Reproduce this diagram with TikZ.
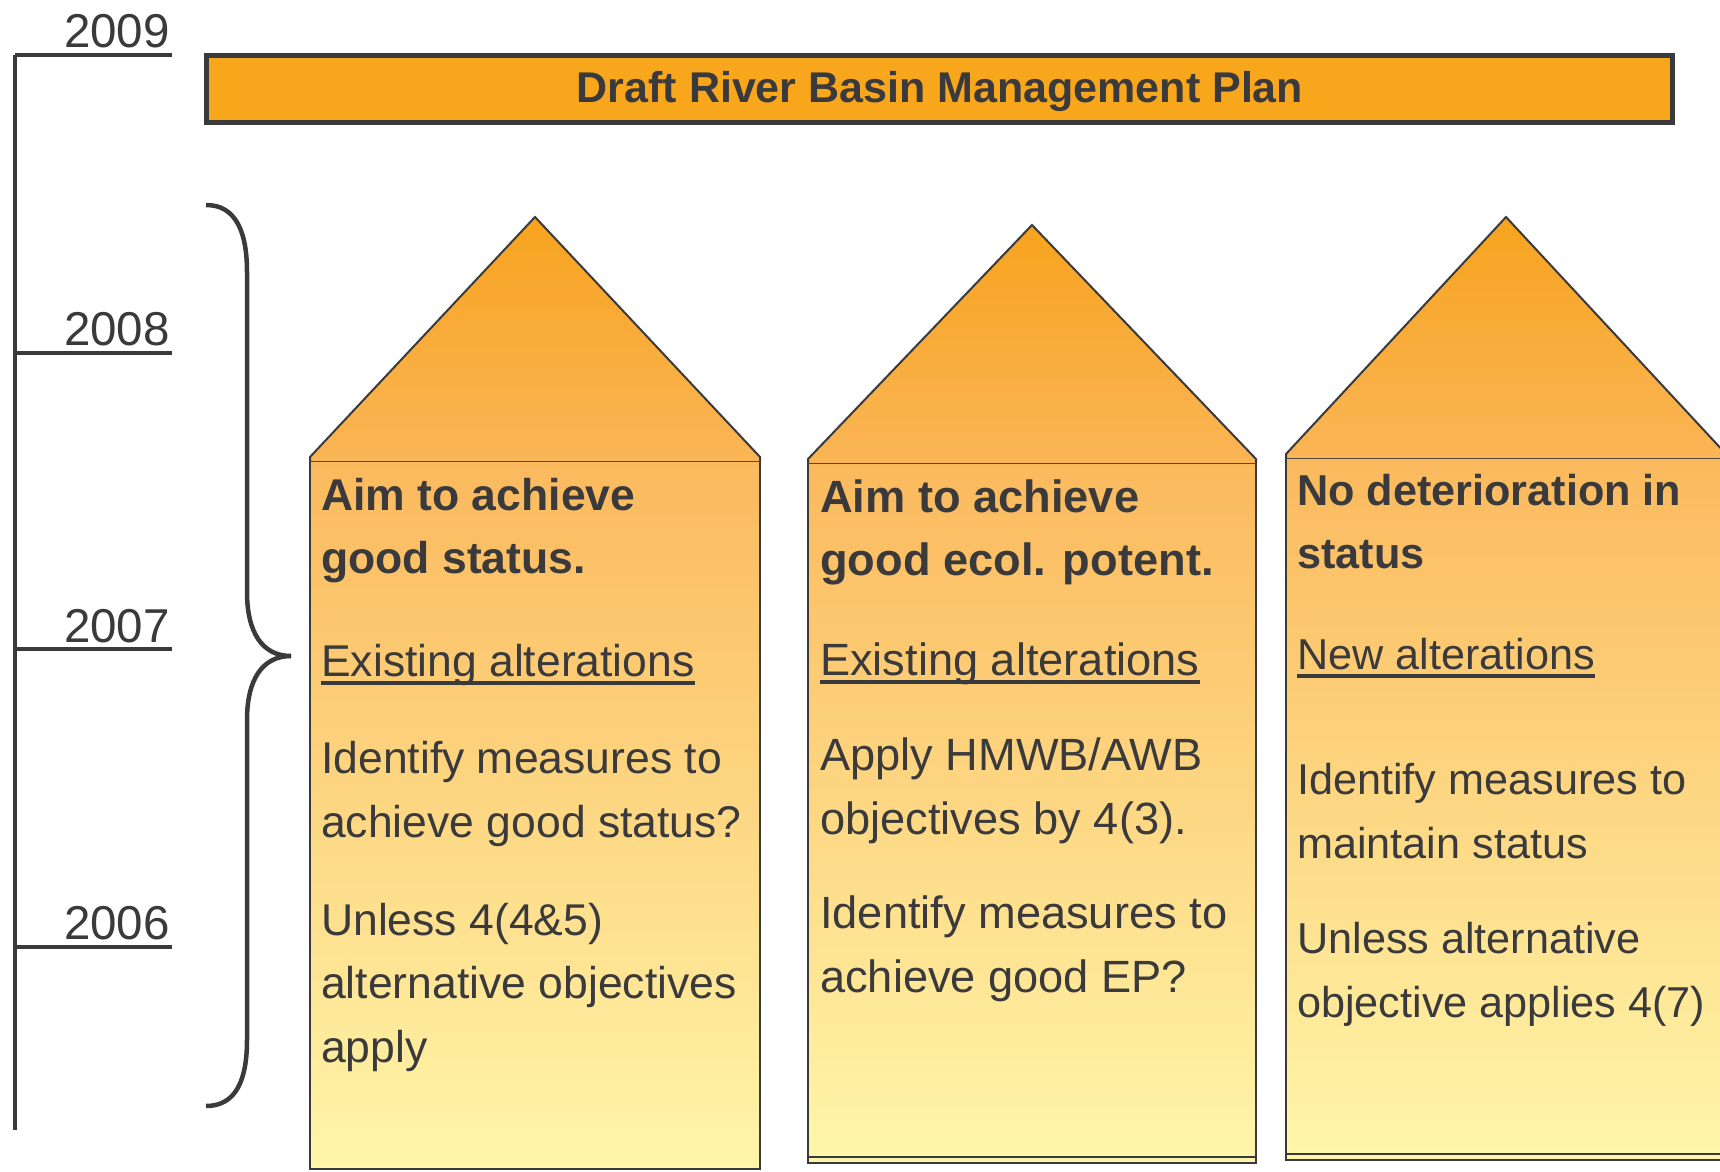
\documentclass[tikz,border=0pt]{standalone}
\usepackage{fontspec}
\setmainfont{Liberation Sans}
\usepackage{tikz}

\definecolor{inkgray}{HTML}{3A3A3C}
\definecolor{barorange}{HTML}{F8A61C}
\definecolor{rooftop}{HTML}{F7A31E}
\definecolor{roofbottom}{HTML}{FAB556}
\definecolor{bodytop}{HTML}{FBB95D}
\definecolor{bodybottom}{HTML}{FFF6AA}

\newcommand{\undertext}[1]{\setbox0\hbox{#1}\rlap{\rule[-8.5pt]{\wd0}{4pt}}\box0}

\tikzset{
  timeline/.style={draw=inkgray, line width=4pt},
  yearlabel/.style={anchor=base east, inner sep=0pt, text=inkgray, font=\fontsize{47.5}{56}\selectfont},
  housewall/.style={draw=inkgray, line width=2pt, top color=bodytop, bottom color=bodybottom},
  houseroof/.style={draw=inkgray, line width=2pt, top color=rooftop, bottom color=roofbottom},
  headtext/.style={anchor=base west, inner sep=0pt, align=left, text=inkgray, font=\fontsize{#1}{62.5}\selectfont\bfseries},
  headtext/.default=44.5,
  bodytext/.style={anchor=base west, inner sep=0pt, align=left, text=inkgray, font=\fontsize{#1}{63.5}\selectfont},
  bodytext/.default=44.5
}

\begin{document}
\begin{tikzpicture}[x=1pt, y=-1pt]
\useasboundingbox[fill=white] (0,0) rectangle (1720,1171);
\clip (0,0) rectangle (1720,1171);

% timeline with years
\coordinate (t2009) at (15,55);
\coordinate (t2008) at (15,353);
\coordinate (t2007) at (15,649);
\coordinate (t2006) at (15,947);
\coordinate (tend) at (15,1130);
\draw[timeline] (t2009) -- (tend);
\draw[timeline] (t2009) -- ++(157,0); \node[yearlabel] (y2009) at (170,47) {2009};
\draw[timeline] (t2008) -- ++(157,0); \node[yearlabel] (y2008) at (170,345) {2008};
\draw[timeline] (t2007) -- ++(157,0); \node[yearlabel] (y2007) at (170,642) {2007};
\draw[timeline] (t2006) -- ++(157,0); \node[yearlabel] (y2006) at (170,939) {2006};

% plan bar
\draw[draw=inkgray, line width=5pt, fill=barorange] (206,55) rectangle (1672,122);
\node[anchor=base, inner sep=0pt, text=inkgray, font=\fontsize{43}{50}\selectfont\bfseries] (plan) at (940,102) {Draft River Basin Management Plan};

% brace
\draw[draw=inkgray, line width=4.5pt] (206,205) .. controls (236,205) and (247,232) .. (247,272) -- (247,592)
  .. controls (247,632) and (262,656) .. (291,656) .. controls (262,656) and (247,680) .. (247,720)
  -- (247,1040) .. controls (247,1080) and (236,1106) .. (206,1106);

% house 1 (node anchors sit on the last line)
\path[housewall] (310,461) rectangle (760,1169);
\path[houseroof] (310,461) -- (310,457) -- (535,217) -- (760,457) -- (760,461);
\node[headtext] (h1head) at (321,573) {Aim to achieve\\good status.};
\node[bodytext] (h1alt) at (321,676) {\undertext{Existing alterations}};
\node[bodytext] (h1meas) at (321,837) {Identify measures to\\achieve good status?};
\node[bodytext] (h1unless) at (321,1062) {Unless 4(4\&5)\\alternative objectives\\apply};

% house 2
\draw[draw=inkgray, line width=2pt, fill=bodybottom] (808,1157) rectangle (1256,1163);
\path[housewall] (808,463) rectangle (1256,1157);
\path[houseroof] (808,463) -- (808,459) -- (1032,225) -- (1256,459) -- (1256,463);
\node[headtext=45.2] (h2head) at (820,575) {Aim to achieve\\good ecol. potent.};
\node[bodytext=45.2] (h2alt) at (820,675) {\undertext{Existing alterations}};
\node[bodytext=45.2] (h2apply) at (820,834) {Apply HMWB/AWB\\objectives by 4(3).};
\node[bodytext=45.2] (h2meas) at (820,992) {Identify measures to\\achieve good EP?};

% house 3
\draw[draw=inkgray, line width=2pt, fill=bodybottom] (1286,1154) rectangle (1726,1160);
\path[housewall] (1286,458) rectangle (1726,1154);
\path[houseroof] (1286,458) -- (1286,454) -- (1506,217) -- (1726,454) -- (1726,458);
\node[headtext=43.2] (h3head) at (1297,568) {No deterioration in\\status};
\node[bodytext=43.2] (h3alt) at (1297,669) {\undertext{New alterations}};
\node[bodytext=43.2] (h3meas) at (1297,858) {Identify measures to\\maintain status};
\node[bodytext=43.2] (h3unless) at (1297,1017) {Unless alternative\\objective applies 4(7)};
\end{tikzpicture}
\end{document}
